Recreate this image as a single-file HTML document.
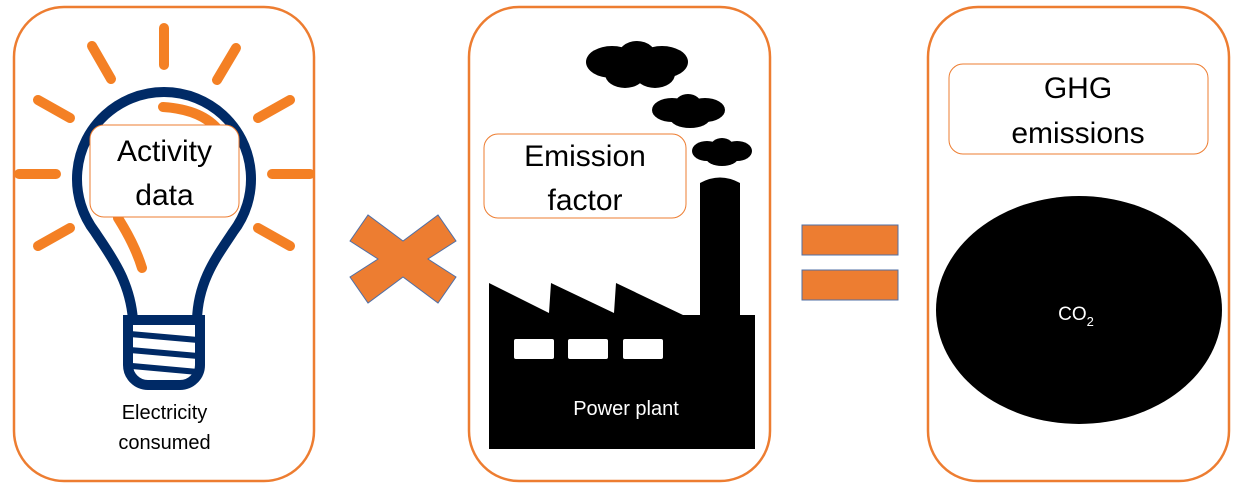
<!DOCTYPE html>
<html><head><meta charset="utf-8"><style>
html,body{margin:0;padding:0;background:#fff;}
svg{display:block;}
text{font-family:"Liberation Sans",sans-serif;}
</style></head><body>
<svg width="1234" height="486" viewBox="0 0 1234 486" xmlns="http://www.w3.org/2000/svg">
<rect x="14" y="7" width="300" height="474" rx="50" fill="#fff" stroke="#ED7D31" stroke-width="2.5"/>
<rect x="469" y="7" width="301" height="474" rx="50" fill="#fff" stroke="#ED7D31" stroke-width="2.5"/>
<rect x="928" y="7" width="301" height="474" rx="50" fill="#fff" stroke="#ED7D31" stroke-width="2.5"/>

<g stroke="#F48024" stroke-width="10" stroke-linecap="round">
<line x1="164" y1="28" x2="164" y2="65"/>
<line x1="92" y1="46" x2="111" y2="79"/>
<line x1="236" y1="48" x2="217" y2="80"/>
<line x1="38" y1="100" x2="70" y2="118"/>
<line x1="290" y1="100" x2="258" y2="118"/>
<line x1="19" y1="174" x2="56" y2="174"/>
<line x1="272" y1="174" x2="310" y2="174"/>
<line x1="38" y1="246" x2="70" y2="228"/>
<line x1="290" y1="246" x2="258" y2="228"/>
<path d="M163,107 Q210,110 225,140" fill="none"/>
<path d="M118,218 Q135,245 142,268" fill="none"/>
</g>
<g fill="none" stroke="#002A66" stroke-width="10">
<path d="M133,320 C130,280 110,255 95,232 A87,87 0 1 1 233,232 C218,255 198,280 197,320"/>
<path d="M128,320 L200,320 L200,365 A20,20 0 0 1 180,385 L148,385 A20,20 0 0 1 128,365 Z"/>
</g>
<g stroke="#002A66" stroke-width="6">
<line x1="130" y1="334" x2="198" y2="340"/>
<line x1="130" y1="350" x2="198" y2="356"/>
<line x1="132" y1="366" x2="198" y2="372"/>
</g>
<rect x="90" y="125" width="149" height="92" rx="14" fill="#fff" stroke="#ED7D31" stroke-width="1"/>
<text x="164.5" y="161" font-size="30" text-anchor="middle">Activity</text>
<text x="164.5" y="205" font-size="30" text-anchor="middle">data</text>
<text x="164.5" y="419" font-size="20" text-anchor="middle">Electricity</text>
<text x="164.5" y="449" font-size="20" text-anchor="middle">consumed</text>

<g transform="translate(403,259)">
<polygon points="-53,-18 -35,-44 0,-18 35,-44 53,-18 25,0 53,18 35,44 0,18 -35,44 -53,18 -25,0" fill="#ED7D31" stroke="#4F6FA6" stroke-width="1"/>
</g>

<path d="M489,283 L549,313 L551,283 L614,313 L616,283 L683,315 L700,315 L700,183 Q720,172 740,183 L740,315 L755,315 L755,449 L489,449 Z" fill="#000"/>
<g fill="#fff">
<rect x="514" y="339" width="40" height="20" rx="2"/>
<rect x="568" y="339" width="40" height="20" rx="2"/>
<rect x="623" y="339" width="40" height="20" rx="2"/>
</g>
<g fill="#000">
<ellipse cx="612" cy="62" rx="26" ry="16"/>
<ellipse cx="637" cy="58" rx="20" ry="17"/>
<ellipse cx="662" cy="62" rx="26" ry="16"/>
<ellipse cx="625" cy="74" rx="20" ry="14"/>
<ellipse cx="655" cy="74" rx="20" ry="14"/>
<ellipse cx="672" cy="110" rx="20" ry="12"/>
<ellipse cx="688" cy="106" rx="14" ry="12"/>
<ellipse cx="705" cy="110" rx="20" ry="12"/>
<ellipse cx="690" cy="118" rx="20" ry="10"/>
<ellipse cx="707" cy="151" rx="15" ry="10"/>
<ellipse cx="722" cy="148" rx="12" ry="10"/>
<ellipse cx="737" cy="151" rx="15" ry="10"/>
<ellipse cx="722" cy="158" rx="16" ry="8"/>
</g>
<rect x="484" y="134" width="202" height="84" rx="14" fill="#fff" stroke="#ED7D31" stroke-width="1"/>
<text x="585" y="166" font-size="30" text-anchor="middle">Emission</text>
<text x="585" y="210" font-size="30" text-anchor="middle">factor</text>
<text x="626" y="415" font-size="20" fill="#fff" text-anchor="middle">Power plant</text>

<rect x="802" y="225" width="96" height="30" fill="#ED7D31" stroke="#4F6FA6" stroke-width="1"/>
<rect x="802" y="270" width="96" height="30" fill="#ED7D31" stroke="#4F6FA6" stroke-width="1"/>

<rect x="949" y="64" width="259" height="90" rx="14" fill="#fff" stroke="#ED7D31" stroke-width="1"/>
<text x="1078" y="98" font-size="30" text-anchor="middle">GHG</text>
<text x="1078" y="143" font-size="30" text-anchor="middle">emissions</text>
<ellipse cx="1079" cy="310" rx="143" ry="114" fill="#000"/>
<text x="1076" y="320" font-size="19" fill="#fff" text-anchor="middle">CO<tspan font-size="13" dy="6">2</tspan></text>
</svg>
</body></html>
